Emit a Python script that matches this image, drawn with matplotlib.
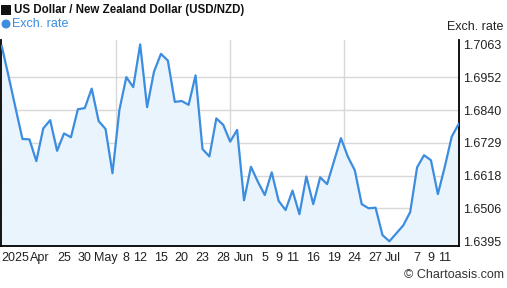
import matplotlib.pyplot as plt
from matplotlib.patches import Rectangle, Ellipse
import numpy as np

plt.rcParams['font.family'] = ['Liberation Sans', 'DejaVu Sans']

# USD/NZD daily close, 2025-04-14 .. 2025-07-15
rate = [1.7058, 1.6954, 1.6847, 1.6742, 1.6741, 1.6667, 1.6778, 1.6806, 1.6702, 1.6761,
        1.6748, 1.6843, 1.6847, 1.6913, 1.6803, 1.6776, 1.6626, 1.6841, 1.6952, 1.6918,
        1.7063, 1.6850, 1.6971, 1.7031, 1.7008, 1.6868, 1.6871, 1.6858, 1.6958, 1.6708,
        1.6683, 1.6812, 1.6790, 1.6733, 1.6773, 1.6534, 1.6648, 1.6597, 1.6552, 1.6629,
        1.6532, 1.6501, 1.6567, 1.6487, 1.6615, 1.6521, 1.6612, 1.6589, 1.6667, 1.6745,
        1.6682, 1.6636, 1.6521, 1.6507, 1.6509, 1.6416, 1.6395, 1.6422, 1.6449, 1.6494,
        1.6646, 1.6687, 1.6670, 1.6555, 1.6648, 1.6750, 1.6793]

tick_pos = [1.9, 5.5, 9, 12, 15, 18, 20, 23, 26, 29, 32, 35, 38, 40, 42, 45, 48, 51, 54, 56.5, 60, 62, 64]
tick_lbl = ['2025', 'Apr', '25', '30', 'May', '8', '12', '15', '20', '23', '28', 'Jun',
            '5', '9', '11', '16', '19', '24', '27', 'Jul', '7', '9', '11']

x = np.arange(len(rate))
lo, hi = min(rate), max(rate)
yticks = np.linspace(hi, lo, 7)

W, H = 507, 288
fig = plt.figure(figsize=(W / 100, H / 100), dpi=100)
ax = fig.add_axes([0.002, 0.1458, 0.9033, 0.7153])

line_c = '#3c8de0'
ax.fill_between(x, rate, lo - 0.01, color='#eaf4fd', zorder=1)
ax.plot(x, rate, color=line_c, lw=1.6, zorder=3)

ax.set_xlim(-0.1, len(rate) - 0.95)
ax.set_ylim(lo - 0.0016, hi + 0.0015)

# horizontal grid at inner ticks, vertical grid at quarters
for v in yticks[1:-1]:
    ax.axhline(v, color='#d8d8d8', lw=1, zorder=0)
x0, x1 = ax.get_xlim()
for f in (0.25, 0.5, 0.75):
    ax.axvline(x0 + f * (x1 - x0), color='#d8d8d8', lw=1, zorder=0)

ax.yaxis.tick_right()
ax.set_yticks(yticks)
ax.set_yticklabels(['%.4f' % v for v in yticks])
ax.set_xticks(tick_pos)
ax.set_xticklabels(tick_lbl)
ax.tick_params(axis='both', length=0, labelsize=9, colors='#222222')
ax.tick_params(axis='y', pad=3)
ax.tick_params(axis='x', pad=4)

for s in ('left', 'bottom', 'right'):
    ax.spines[s].set_color('black')
    ax.spines[s].set_linewidth(1.3)
ax.spines['top'].set_visible(False)

# legend markers drawn in figure pixels
fig.add_artist(Rectangle((1 / W, 1 - 15 / H), 10 / W, 10 / H, transform=fig.transFigure,
                         color='#111111', lw=0))
fig.add_artist(Ellipse((6 / W, 1 - 24 / H), 9 / W, 9 / H, transform=fig.transFigure,
                       color=line_c, lw=0))
fig.text(14 / W, 1 - 10 / H, 'US Dollar / New Zealand Dollar (USD/NZD)', fontsize=8.3,
         fontweight='bold', color='#111111', va='center', ha='left')
fig.text(12 / W, 1 - 24 / H, 'Exch. rate', fontsize=9, color=line_c, va='center', ha='left')
fig.text(0.993, 1 - 27 / H, 'Exch. rate', fontsize=9, color='#222222', va='center', ha='right')
fig.text(0.995, 1 - 275 / H, '\u00a9 Chartoasis.com', fontsize=9, color='#333333',
         va='center', ha='right')

fig.savefig('out.png', dpi=100)
